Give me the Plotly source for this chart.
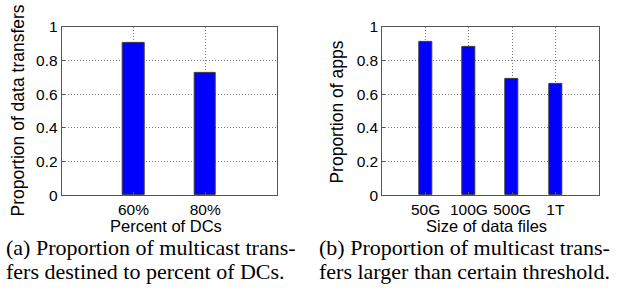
import plotly.graph_objects as go

# ---- data ----
dc_labels = ["60%", "80%"]
dc_values = [0.905, 0.727]
size_labels = ["50G", "100G", "500G", "1T"]
size_values = [0.910, 0.879, 0.690, 0.660]
y_tick_vals = [0, 0.2, 0.4, 0.6, 0.8, 1]
y_tick_text = ["0", "0.2", "0.4", "0.6", "0.8", "1"]

W, H = 626, 290
SANS = "Liberation Sans, Arial, sans-serif"
SERIF = "Liberation Serif, Times New Roman, serif"

def px_x(v):
    return v / W

def px_y(v):
    return 1 - v / H

fig = go.Figure()

bar_style = dict(marker=dict(color="#0000FF", line=dict(color="#3a3a3a", width=1)),
                 width=0.3, showlegend=False, hoverinfo="skip")

fig.add_trace(go.Bar(x=list(range(1, len(dc_values) + 1)), y=dc_values,
                     xaxis="x", yaxis="y", **bar_style))
fig.add_trace(go.Bar(x=list(range(1, len(size_values) + 1)), y=size_values,
                     xaxis="x2", yaxis="y2", **bar_style))

axis_common = dict(showline=True, linecolor="#555555", linewidth=1, mirror=True,
                   showgrid=True, gridcolor="#7a7a7a", griddash="1px,2px", gridwidth=1,
                   zeroline=False, ticks="inside", ticklen=3, tickcolor="#555555",
                   tickfont=dict(family=SANS, size=15.5, color="black"), fixedrange=True)

y_top, y_bot = 19, 197.7
dom_y = [px_y(y_bot), px_y(y_top)]

fig.update_layout(
    width=W, height=H, margin=dict(l=0, r=0, t=0, b=0),
    paper_bgcolor="white", plot_bgcolor="white",
    xaxis=dict(domain=[px_x(61.7), px_x(277)], range=[0, len(dc_values) + 1],
               tickvals=list(range(1, len(dc_values) + 1)), ticktext=dc_labels,
               anchor="y", **axis_common),
    yaxis=dict(domain=dom_y, range=[0, 1], tickvals=y_tick_vals, ticktext=y_tick_text,
               anchor="x", **axis_common),
    xaxis2=dict(domain=[px_x(382.3), px_x(598.7)], range=[0, len(size_values) + 1],
                tickvals=list(range(1, len(size_values) + 1)), ticktext=size_labels,
                anchor="y2", **axis_common),
    yaxis2=dict(domain=dom_y, range=[0, 1], tickvals=y_tick_vals, ticktext=y_tick_text,
                anchor="x2", **axis_common),
    bargap=0,
)

ann = []
title_font = dict(family=SANS, size=16.5, color="black")
ytitle_font = dict(family=SANS, size=17.5, color="black")
# y titles
ann.append(dict(text="Proportion of data transfers", x=px_x(17.5), y=px_y(108.3),
                xref="paper", yref="paper", textangle=-90, showarrow=False,
                xanchor="center", yanchor="middle", font=ytitle_font))
ann.append(dict(text="Proportion of apps", x=px_x(337.5), y=px_y(109.5),
                xref="paper", yref="paper", textangle=-90, showarrow=False,
                xanchor="center", yanchor="middle", font=ytitle_font))
# x titles
ann.append(dict(text="Percent of DCs", x=px_x(165.5), y=px_y(230.5),
                xref="paper", yref="paper", showarrow=False, borderpad=0,
                xanchor="center", yanchor="middle", font=title_font))
ann.append(dict(text="Size of data files", x=px_x(487), y=px_y(230.5),
                xref="paper", yref="paper", showarrow=False, borderpad=0,
                xanchor="center", yanchor="middle", font=title_font))
# captions
cap_font = dict(family=SERIF, size=22, color="black")
captions = [
    ("(a) Proportion of multicast trans-", 5, 253.5),
    ("fers destined to percent of DCs.", 5, 278.5),
    ("(b) Proportion of multicast trans-", 318, 253.5),
    ("fers larger than certain threshold.", 318, 278.5),
]
for txt, cx, cy in captions:
    ann.append(dict(text=txt, x=px_x(cx), y=px_y(cy), xref="paper", yref="paper",
                    showarrow=False, borderpad=0, xanchor="left", yanchor="middle",
                    font=cap_font))

fig.update_layout(annotations=ann)
fig.write_html("out.html", config={"displayModeBar": False},
               post_script="document.body.style.margin='0';")
